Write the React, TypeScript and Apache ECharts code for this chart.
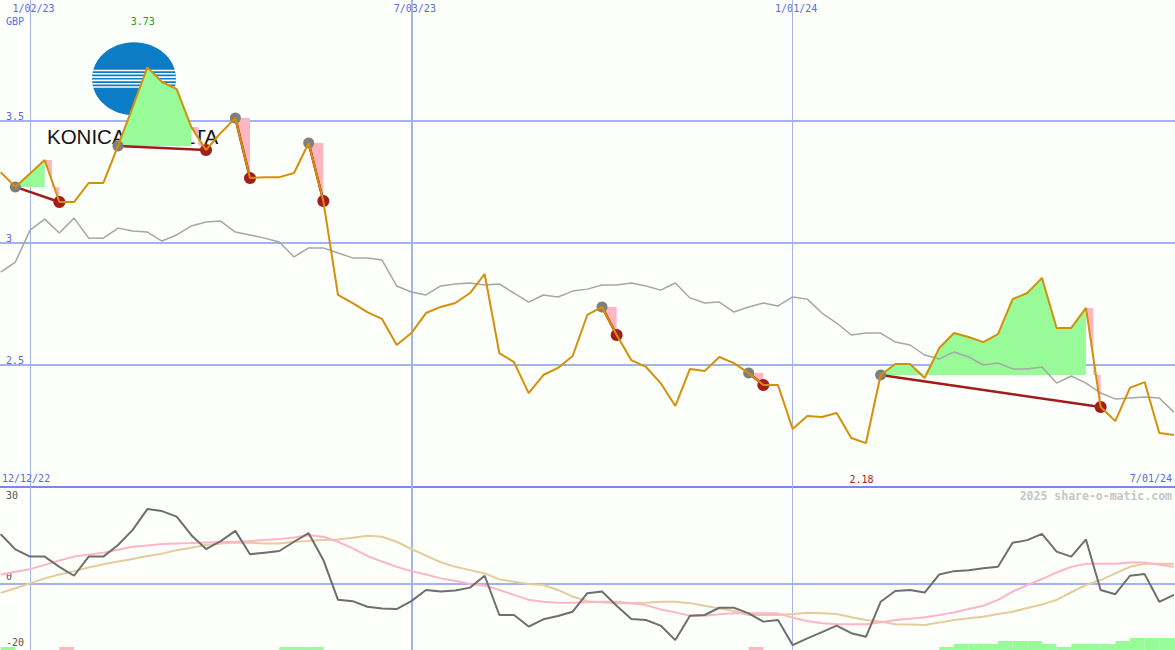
import React, { useEffect, useRef } from 'react';
import * as echarts from 'echarts';

// ---------- data ----------
const weekDates = [
  '2022-12-19', '2022-12-26',
  '2023-01-02', '2023-01-09', '2023-01-16', '2023-01-23', '2023-01-30',
  '2023-02-06', '2023-02-13', '2023-02-20', '2023-02-27',
  '2023-03-06', '2023-03-13', '2023-03-20', '2023-03-27',
  '2023-04-03', '2023-04-10', '2023-04-17', '2023-04-24',
  '2023-05-01', '2023-05-08', '2023-05-15', '2023-05-22', '2023-05-29',
  '2023-06-05', '2023-06-12', '2023-06-19', '2023-06-26',
  '2023-07-03', '2023-07-10', '2023-07-17', '2023-07-24', '2023-07-31',
  '2023-08-07', '2023-08-14', '2023-08-21', '2023-08-28',
  '2023-09-04', '2023-09-11', '2023-09-18', '2023-09-25',
  '2023-10-02', '2023-10-09', '2023-10-16', '2023-10-23', '2023-10-30',
  '2023-11-06', '2023-11-13', '2023-11-20', '2023-11-27',
  '2023-12-04', '2023-12-11', '2023-12-18', '2023-12-25',
  '2024-01-01', '2024-01-08', '2024-01-15', '2024-01-22', '2024-01-29',
  '2024-02-05', '2024-02-12', '2024-02-19', '2024-02-26',
  '2024-03-04', '2024-03-11', '2024-03-18', '2024-03-25',
  '2024-04-01', '2024-04-08', '2024-04-15', '2024-04-22', '2024-04-29',
  '2024-05-06', '2024-05-13', '2024-05-20', '2024-05-27',
  '2024-06-03', '2024-06-10', '2024-06-17', '2024-06-24',
  '2024-07-01',
];

const closePrice = [
  3.29, 3.23, 3.285, 3.34, 3.168, 3.168, 3.246, 3.246, 3.398, 3.557,
  3.72, 3.66, 3.631, 3.475, 3.381, 3.451, 3.512, 3.266, 3.27, 3.27,
  3.287, 3.41, 3.172, 2.787, 2.754, 2.717, 2.689, 2.582, 2.631, 2.713,
  2.738, 2.754, 2.795, 2.873, 2.549, 2.512, 2.385, 2.459, 2.488, 2.537,
  2.705, 2.738, 2.623, 2.52, 2.492, 2.426, 2.332, 2.484, 2.475, 2.533,
  2.508, 2.467, 2.418, 2.418, 2.238, 2.291, 2.287, 2.303, 2.201, 2.18,
  2.459, 2.504, 2.504, 2.447, 2.57, 2.631, 2.615, 2.594, 2.627, 2.77,
  2.795, 2.857, 2.652, 2.652, 2.734, 2.328, 2.27, 2.406, 2.43, 2.221,
  2.213,
];

const benchmark = [
  2.881, 2.922, 3.053, 3.098, 3.041, 3.102, 3.02, 3.02, 3.061, 3.049,
  3.045, 3.008, 3.033, 3.07, 3.086, 3.09, 3.045, 3.033, 3.02, 3.004,
  2.943, 2.98, 2.98, 2.959, 2.939, 2.939, 2.93, 2.824, 2.799, 2.787,
  2.824, 2.832, 2.836, 2.828, 2.832, 2.795, 2.758, 2.787, 2.779, 2.803,
  2.811, 2.828, 2.828, 2.836, 2.824, 2.807, 2.836, 2.775, 2.754, 2.758,
  2.717, 2.738, 2.754, 2.742, 2.779, 2.77, 2.713, 2.672, 2.623, 2.631,
  2.631, 2.594, 2.582, 2.541, 2.525, 2.553, 2.533, 2.5, 2.508, 2.484,
  2.484, 2.492, 2.426, 2.455, 2.426, 2.385, 2.361, 2.365, 2.369, 2.365,
  2.307,
];

const momentum = [
  15.1, 10.5, 8.3, 8.3, 5.2, 2.5, 8.3, 8.3, 11.8, 16.4,
  22.7, 22.1, 20.4, 14.8, 10.6, 13.0, 16.1, 9.0, 9.5, 10.0,
  12.8, 15.4, 7.3, -4.8, -5.2, -6.9, -7.4, -7.6, -5.2, -1.8,
  -2.3, -2.0, -1.1, 2.5, -9.4, -9.4, -12.9, -10.7, -9.7, -8.4,
  -2.8, -2.3, -6.6, -10.6, -10.9, -12.6, -17.0, -9.6, -9.4, -7.2,
  -7.2, -8.9, -11.4, -10.9, -18.5, -16.5, -14.6, -12.6, -14.9, -16.0,
  -5.4, -2.1, -1.8, -2.6, 2.9, 3.9, 4.2, 4.8, 5.2, 12.5,
  13.3, 15.2, 9.8, 8.3, 13.5, -1.8, -3.1, 2.5, 3.0, -5.4,
  -3.3,
];

const momentumFast = [
  2.9, 3.7, 4.5, 5.8, 7.1, 8.3, 8.9, 9.5, 10.4, 11.3,
  11.7, 12.1, 12.3, 12.4, 12.6, 12.7, 12.8, 13.0, 13.3, 13.6,
  14.1, 14.8, 14.3, 12.8, 10.8, 8.5, 6.8, 5.2, 3.9, 2.9,
  1.7, 0.9, 0.0, -0.5, -1.8, -3.3, -4.8, -5.4, -5.7, -5.7,
  -5.5, -5.4, -5.4, -5.8, -6.4, -7.7, -8.6, -9.6, -9.6, -9.2,
  -8.9, -8.9, -8.9, -8.9, -10.2, -11.2, -11.9, -12.2, -12.2, -12.2,
  -11.6, -10.9, -10.5, -10.1, -9.4, -8.6, -7.6, -6.6, -4.8, -2.3,
  -0.3, 1.5, 3.5, 5.2, 6.1, 6.1, 6.1, 6.5, 6.5, 5.8,
  5.2,
];

const momentumSlow = [
  -2.7, -1.3, 0.2, 1.7, 2.9, 3.9, 5.0, 6.0, 6.8, 7.6,
  8.5, 9.2, 10.2, 11.0, 11.8, 12.3, 12.6, 12.5, 12.3, 12.3,
  12.8, 13.0, 13.3, 13.5, 14.0, 14.6, 14.3, 12.8, 10.6, 8.6,
  6.6, 5.2, 4.2, 3.2, 1.4, 0.7, 0.0, -0.3, -1.8, -3.8,
  -5.2, -5.5, -5.8, -5.8, -5.7, -5.4, -5.4, -5.8, -6.6, -7.4,
  -8.2, -9.4, -9.4, -9.4, -9.1, -8.7, -8.9, -9.1, -10.1, -10.9,
  -11.4, -12.2, -12.3, -12.4, -11.7, -10.9, -10.4, -9.9, -9.1, -8.4,
  -7.3, -6.2, -4.8, -2.5, -0.3, 1.2, 3.2, 5.2, 6.1, 6.1,
  6.1,
];

const signalLevel = [
  1, 0, 0, 0, -1, 0, 0, 0, 0, 0,
  0, 0, 0, 0, 0, 0, 0, 0, 0, 1,
  1, 1, 0, 0, 0, 0, 0, 0, 0, 0,
  0, 0, 0, 0, 0, 0, 0, 0, 0, 0,
  0, 0, 0, 0, 0, 0, 0, 0, 0, 0,
  0, -1, 0, 0, 0, 0, 0, 0, 0, 0,
  0, 0, 0, 0, 1, 2, 2, 2, 3, 3,
  3, 2, 1, 2, 2, 2, 3, 4, 4, 4,
  4,
];

const tradeBuyIdx = [1, 8, 16, 21, 41, 51, 60];
const tradeSellIdx = [4, 14, 17, 22, 42, 52, 75];

const tickDates = ['2023-01-02', '2023-07-03', '2024-01-01'];
const tickLabels = ['1/02/23', '7/03/23', '1/01/24'];
const priceTicks = [2.5, 3, 3.5];
const oscLowerTicks = [0, -20];
const oscUpperTicks = [30];
const rangeStartLabel = '12/12/22';
const rangeEndLabel = '7/01/24';
const periodHigh = 3.73;
const periodLow = 2.18;
const currencyLabel = 'GBP';
const logoText = 'KONICA MINOLTA';
const copyrightText = '2025 share-o-matic.com';

// ---------- styles ----------
const BG = '#fcfffa';
const GRID_BLUE = '#a4b2f2';
const LABEL_BLUE = '#5a6ae6';
const SEP_BLUE = '#7a88ec';
const ORANGE = '#d4900a';
const BENCH_GRAY = '#a6a6a6';
const GREEN = '#98fb98';
const PINK = '#ffb6c1';
const RED_LINE = '#a01c1c';
const RED_DOT = '#a41d1d';
const GRAY_DOT = '#7f7f7f';
const MOM_GRAY = '#6e6e6e';
const FAST_PINK = '#ffb4c8';
const SLOW_TAN = '#e5cc9a';
const MONO = '"DejaVu Sans Mono", monospace';
const tickWidths = [1, 2, 1];

const PRICE_MIN = 2;
const PRICE_MAX = 3.996;
const OSC_MIN = -20;
const OSC_MAX = 30;
const BAR_UNIT = 0.91;

const DAY = 86400000;
const toTs = (s: string) => {
  const [y, m, d] = s.split('-').map(Number);
  return new Date(y, m - 1, d).getTime();
};
const weekTs = weekDates.map(toTs);
const tickTs = tickDates.map(toTs);
const pairs = (vals: number[]) => weekTs.map((t, i) => [t, vals[i]]);
const xMin = weekTs[0] - DAY / 3;
const xMax = weekTs[weekTs.length - 1] + DAY / 2;

export default function App() {
  const ref = useRef<HTMLDivElement>(null);

  useEffect(() => {
    if (!ref.current) return;
    const chart = echarts.init(ref.current, undefined, { renderer: 'svg' });

    const vLines = tickTs.map((t, i) => ({ xAxis: t, lineStyle: { width: tickWidths[i] } }));

    const option: any = {
      animation: false,
      backgroundColor: BG,
      grid: [
        { left: 0, right: 0, top: 0, height: 487 },
        { left: 0, right: 0, top: 485, height: 165 },
      ],
      xAxis: [
        {
          gridIndex: 0, type: 'value', position: 'top', min: xMin, max: xMax,
          axisLine: { show: false, onZero: false }, axisTick: { show: false }, splitLine: { show: false },
          axisLabel: {
            inside: true, margin: 8, verticalAlign: 'middle', customValues: tickTs,
            hideOverlap: false,
            color: LABEL_BLUE, fontFamily: MONO, fontSize: 10, padding: [0, 0, 0, 7],
            formatter: (v: number) => { const i = tickTs.indexOf(v); return i >= 0 ? tickLabels[i] : ''; },
          },
        },
        {
          gridIndex: 1, type: 'value', position: 'top', min: xMin, max: xMax,
          axisLine: { show: false, onZero: false }, axisTick: { show: false }, axisLabel: { show: false }, splitLine: { show: false },
        },
        {
          gridIndex: 0, type: 'value', position: 'bottom', min: xMin, max: xMax,
          axisLine: { show: true, onZero: false, lineStyle: { color: SEP_BLUE, width: 2 } },
          axisTick: { show: false }, axisLabel: { show: false }, splitLine: { show: false },
        },
      ],
      yAxis: [
        {
          gridIndex: 0, type: 'value', position: 'left', min: PRICE_MIN, max: PRICE_MAX, interval: 0.5,
          axisLine: { show: false }, axisTick: { show: false },
          splitLine: { show: true, showMinLine: false, showMaxLine: false, lineStyle: { color: GRID_BLUE, width: 2 } },
          axisLabel: {
            inside: true, margin: 6, verticalAlign: 'bottom', color: LABEL_BLUE, fontFamily: MONO, fontSize: 10,
            formatter: (v: number) => (priceTicks.indexOf(v) >= 0 ? String(v) : ''),
          },
        },
        {
          gridIndex: 1, type: 'value', position: 'left', min: OSC_MIN, max: OSC_MAX,
          axisLine: { show: false }, axisTick: { show: false }, splitLine: { show: false },
          axisLabel: {
            inside: true, margin: 6, verticalAlign: 'bottom', customValues: oscLowerTicks,
            color: '#555', fontFamily: MONO, fontSize: 10, padding: [0, 0, 3, 0],
            formatter: (v: number) => String(v),
          },
        },
        {
          gridIndex: 1, type: 'value', position: 'left', offset: 0, min: OSC_MIN, max: OSC_MAX,
          axisLine: { show: false }, axisTick: { show: false }, splitLine: { show: false },
          axisLabel: {
            inside: true, margin: 6, verticalAlign: 'top', customValues: oscUpperTicks,
            color: '#555', fontFamily: MONO, fontSize: 10, padding: [5, 0, 0, 0],
            formatter: (v: number) => String(v),
          },
        },
      ],
      series: [
        {
          type: 'line', xAxisIndex: 0, yAxisIndex: 0, data: [[weekTs[0], closePrice[0]]],
          symbol: 'none', lineStyle: { width: 0, opacity: 0 }, silent: true, z: 1,
          markLine: {
            silent: true, symbol: ['none', 'none'], label: { show: false }, z: 1,
            lineStyle: { color: GRID_BLUE, type: 'solid' }, data: vLines,
          },
        },
        {
          type: 'line', xAxisIndex: 1, yAxisIndex: 1, data: [[weekTs[0], 0]],
          symbol: 'none', lineStyle: { width: 0, opacity: 0 }, silent: true, z: 1,
          markLine: {
            silent: true, symbol: ['none', 'none'], label: { show: false }, z: 1,
            lineStyle: { color: GRID_BLUE, type: 'solid' },
            data: [...vLines, { yAxis: 0, lineStyle: { width: 2 } }],
          },
        },
        {
          type: 'custom', xAxisIndex: 0, yAxisIndex: 0, z: 2, silent: true,
          encode: { x: 0, y: 1 },
          data: tradeBuyIdx.map((b, i) => [weekTs[b], closePrice[b], b, tradeSellIdx[i]]),
          renderItem: (_p: any, api: any) => {
            const b = api.value(2) as number;
            const s = api.value(3) as number;
            const P: number[][] = [];
            for (let i = b; i <= s; i++) P.push(api.coord([weekTs[i], closePrice[i]]));
            const base = P[0][1];
            const children: any[] = [];
            const last = P.length - 2;
            if (last > 0) {
              const poly: number[][] = [];
              for (let j = 0; j <= last; j++) poly.push([P[j][0], Math.min(P[j][1], base)]);
              poly.push([P[last][0], base]);
              children.push({ type: 'polygon', shape: { points: poly }, style: { fill: GREEN } });
            }
            const A = P[P.length - 2];
            const S = P[P.length - 1];
            const mx = (A[0] + S[0]) / 2;
            children.push({
              type: 'polygon',
              shape: { points: [A, [mx, A[1]], [mx, base], [S[0], base], S] },
              style: { fill: PINK },
            });
            children.push({
              type: 'line', shape: { x1: P[0][0], y1: P[0][1], x2: S[0], y2: S[1] },
              style: { stroke: RED_LINE, lineWidth: 2.5 },
            });
            children.push({ type: 'circle', shape: { cx: P[0][0], cy: P[0][1], r: 5.5 }, style: { fill: GRAY_DOT } });
            children.push({ type: 'circle', shape: { cx: S[0], cy: S[1], r: 6 }, style: { fill: RED_DOT } });
            return { type: 'group', children };
          },
        },
        {
          type: 'line', xAxisIndex: 0, yAxisIndex: 0, data: pairs(benchmark), z: 3,
          symbol: 'none', lineStyle: { color: BENCH_GRAY, width: 1.5 }, silent: true,
        },
        {
          type: 'line', xAxisIndex: 0, yAxisIndex: 0, data: pairs(closePrice), z: 4,
          symbol: 'none', lineStyle: { color: ORANGE, width: 2 }, silent: true,
        },
        {
          type: 'custom', xAxisIndex: 1, yAxisIndex: 1, z: 2, silent: true, clip: true,
          encode: { x: 0, y: 1 },
          data: signalLevel.map((v, k) => [weekTs[k], v, k]).filter((d) => d[1] !== 0),
          renderItem: (_p: any, api: any) => {
            const k = api.value(2) as number;
            const lvl = api.value(1) as number;
            const t1 = k + 1 < weekTs.length ? weekTs[k + 1] : weekTs[k] + 7 * DAY;
            const p0 = api.coord([weekTs[k], OSC_MIN]);
            const p1 = api.coord([t1, OSC_MIN + Math.abs(lvl) * BAR_UNIT]);
            return {
              type: 'rect',
              shape: { x: p0[0], y: p1[1], width: p1[0] - p0[0], height: p0[1] - p1[1] },
              style: { fill: lvl > 0 ? GREEN : PINK },
            };
          },
        },
        {
          type: 'line', xAxisIndex: 1, yAxisIndex: 1, data: pairs(momentumSlow), z: 3,
          symbol: 'none', lineStyle: { color: SLOW_TAN, width: 2 }, silent: true,
        },
        {
          type: 'line', xAxisIndex: 1, yAxisIndex: 1, data: pairs(momentumFast), z: 3,
          symbol: 'none', lineStyle: { color: FAST_PINK, width: 2 }, silent: true,
        },
        {
          type: 'line', xAxisIndex: 1, yAxisIndex: 1, data: pairs(momentum), z: 4,
          symbol: 'none', lineStyle: { color: MOM_GRAY, width: 2 }, silent: true,
        },
      ],
    };

    chart.setOption(option);

    const hiIdx = closePrice.indexOf(Math.max(...closePrice));
    const loIdx = closePrice.indexOf(Math.min(...closePrice));
    const hiX = chart.convertToPixel({ xAxisIndex: 0 }, weekTs[hiIdx]) as number;
    const loX = chart.convertToPixel({ xAxisIndex: 0 }, weekTs[loIdx]) as number;

    const txt = (text: string, x: number, y: number, fill: string, align: string, font: string, z = 100) => ({
      type: 'text', z, silent: true,
      style: { text, x, y, fill, font, align, textAlign: align, verticalAlign: 'middle', textVerticalAlign: 'middle' },
    });

    const logoCx = 134, logoCy = 78.7, logoRx = 42, logoRy = 36.5;
    const stripes = [
      [70.5, 1.4], [73.8, 1.6], [77.1, 1.8], [80.4, 1.8], [83.7, 1.6], [87, 1.3],
    ];
    const stripeEls = stripes.map(([cy, h]) => {
      const half = logoRx * Math.sqrt(Math.max(0, 1 - ((cy - logoCy) / logoRy) ** 2));
      return {
        type: 'rect', z: 1, silent: true,
        shape: { x: logoCx - half, y: cy - h / 2, width: half * 2, height: h },
        style: { fill: '#ffffff' },
      };
    });

    const f10 = `10px ${MONO}`;
    chart.setOption({
      graphic: {
        elements: [
          { type: 'ellipse', z: 1, silent: true, shape: { cx: logoCx, cy: logoCy, rx: logoRx, ry: logoRy }, style: { fill: '#0b7cc5' } },
          ...stripeEls,
          txt(logoText, 47, 136.5, '#151515', 'left', '20.5px "Liberation Sans", Arial, sans-serif', 1),
          txt(currencyLabel, 6, 21, LABEL_BLUE, 'left', f10),
          txt(periodHigh.toFixed(2), hiX - 4.5, 21, '#22a022', 'center', f10),
          txt(periodLow.toFixed(2), loX - 4.5, 479, '#aa2020', 'center', f10),
          txt(rangeStartLabel, 2, 478.5, LABEL_BLUE, 'left', f10),
          txt(rangeEndLabel, 1172, 478.5, LABEL_BLUE, 'right', f10),
          txt(copyrightText, 1172, 496, '#c6c6c6', 'right', `bold 11.5px ${MONO}`),
        ],
      },
    });

    return () => chart.dispose();
  }, []);

  return (
    <div
      ref={ref}
      style={{ position: 'absolute', left: 0, top: 0, width: 1175, height: 650 }}
    />
  );
}
